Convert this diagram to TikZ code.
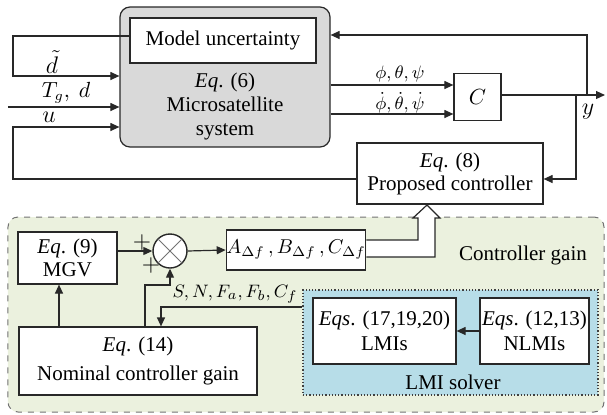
\documentclass[tikz,border=0pt]{standalone}
\usepackage{fontspec}
\setmainfont{Liberation Serif}
\usetikzlibrary{arrows.meta,calc}
\definecolor{sysgray}{RGB}{217,217,217}
\definecolor{greenbg}{RGB}{235,241,222}
\definecolor{bluebg}{RGB}{183,221,232}
\definecolor{ln}{RGB}{40,40,40}
\tikzset{
  blk/.style={draw=ln,line width=0.6pt,fill=white,inner sep=0pt,align=center},
  conn/.style={draw=ln,line width=0.6pt},
  arr/.style={conn,-{Triangle[length=4.5pt,width=4pt]}},
  lbl/.style={inner sep=0pt}
}
\begin{document}
\begin{tikzpicture}[x=0.5pt,y=-0.5pt,font=\fontsize{10.5}{12}\selectfont]
\useasboundingbox (0,0) rectangle (607,414);
% regions
\node[draw=black!55,dashed,line width=0.5pt,fill=greenbg,rounded corners=5pt,minimum width=298pt,minimum height=97.5pt,inner sep=0pt] (green) at (306,314.5) {};
\node[draw=black!75,densely dotted,line width=0.6pt,fill=bluebg,minimum width=147.5pt,minimum height=52.5pt,inner sep=0pt] (blue) at (450.5,342.5) {};
% top system
\node[draw=ln,line width=0.6pt,fill=sysgray,rounded corners=5pt,minimum width=105pt,minimum height=70pt,inner sep=0pt] (sys) at (225,77) {};
\node[blk,minimum width=93pt,minimum height=22.5pt] (mu) at (223,40.5) {Model uncertainty};
\node[lbl,align=center,font=\fontsize{10.5}{12}\selectfont] (systxt) at (225,106) {\textit{Eq}. (6)\\Microsatellite\\system};
\node[blk,minimum width=23.5pt,minimum height=23.5pt] (c) at (477.5,97) {$C$};
\node[blk,minimum width=93pt,minimum height=30.5pt,font=\fontsize{10.5}{11.5}\selectfont] (pc) at (450,173.5) {\textit{Eq}. (8)\\Proposed controller};
% lower blocks
\node[blk,minimum width=49.5pt,minimum height=26pt,font=\fontsize{10.5}{11.5}\selectfont] (mgv) at (67.5,258) {\textit{Eq}. (9)\\MGV};
\node[draw=ln,line width=0.7pt,fill=white,circle,minimum size=17pt,inner sep=0pt] (sum) at (170,251) {};
\draw[black!55,line width=0.5pt] (sum.north west) -- (sum.south east) (sum.north east) -- (sum.south west);
\node[blk,minimum width=59pt,minimum height=20pt] (abc) at (296,250) {\fontsize{10}{10}\selectfont$A_{\Delta f}\,, B_{\Delta f}\,, C_{\Delta f}$};
\node[blk,minimum width=119pt,minimum height=34pt,font=\fontsize{10.5}{14.5}\selectfont] (nom) at (138,361) {\textit{Eq}. (14)\\Nominal controller gain};
\node[blk,minimum width=71.5pt,minimum height=33pt,font=\fontsize{10.5}{12.5}\selectfont] (lmi) at (384.5,331) {\textit{Eqs}. (17,19,20)\\LMIs};
\node[blk,minimum width=54.5pt,minimum height=33pt,font=\fontsize{10.5}{12.5}\selectfont] (nlmi) at (534.5,331) {\textit{Eqs}. (12,13)\\NLMIs};
% labels
\node[lbl] (dl) at (52,62) {\fontsize{12}{12}\selectfont$\tilde{d}$};
\node[lbl] (tgl) at (66,93) {$T_g,\ d$};
\node[lbl] (ul) at (49,117) {\fontsize{12}{12}\selectfont$u$};
\node[lbl] (ang) at (400,74) {\fontsize{9}{10}\selectfont$\phi,\theta,\psi$};
\node[lbl] (angd) at (400,103) {\fontsize{9}{10}\selectfont$\dot\phi,\dot\theta,\dot\psi$};
\node[lbl] (yl) at (588,112) {\fontsize{12}{12}\selectfont$y$};
\node[lbl] (p1) at (142,242) {\fontsize{12}{12}\selectfont$+$};
\node[lbl] (p2) at (151,265) {\fontsize{12}{12}\selectfont$+$};
\node[lbl] (snf) at (235,294) {\fontsize{9.5}{10}\selectfont$S, N, F_a, F_b, C_f$};
\node[lbl] (cg) at (523,255) {Controller gain};
\node[lbl] (ls) at (453,382) {LMI solver};
% coordinates
\coordinate (tgin) at (8,107);
\coordinate (yout) at (605,95);
\coordinate (tap1) at (587,95);
\coordinate (tap2) at (576,95);
% top connectors
\draw[arr] (mu.west |- 0,36) -- (13,36) -- (13,76) -- (sys.west |- 0,76);
\draw[arr] (tgin) -- (sys.west |- tgin);
\draw[arr] (pc.west |- 0,179) -- (13,179) -- (13,127) -- (sys.west |- 0,127);
\draw[arr] (sys.east |- 0,85) -- (c.west |- 0,85);
\draw[arr] (sys.east |- 0,114) -- (c.west |- 0,114);
\draw[arr] (c.east |- yout) -- (yout);
\draw[arr] (tap1) -- (587,35) -- (sys.east |- 0,35);
\draw[arr] (tap2) -- (576,179) -- (pc.east |- 0,179);
% lower connectors
\draw[arr] (mgv.east |- sum) -- (sum.west);
\draw[arr] (nom.north -| 145,0) -- (145,285) -- (170,285) -- (sum.south);
\draw[arr] (nom.north -| 59,0) -- (mgv.south -| 59,0);
\draw[arr] (sum.east) -- (abc.west);
\draw[arr] (blue.west |- 0,307) -- (161,307) -- (nom.north -| 161,0);
\draw[arr] (nlmi.west) -- (lmi.east);
% hollow arrow
\draw[draw=ln,line width=0.6pt,fill=white,line join=miter] (abc.east |- 0,240) -- (418,240) -- (418,218) -- (413,218) -- (427,205) -- (440,218) -- (435,218) -- (435,257) -- (abc.east |- 0,257);
\end{tikzpicture}
\end{document}
